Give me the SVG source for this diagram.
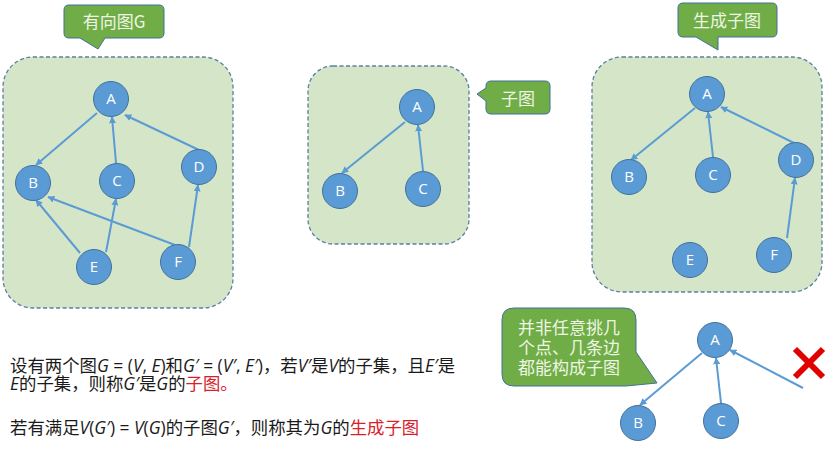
<svg xmlns="http://www.w3.org/2000/svg" width="835" height="450" viewBox="0 0 835 450">
<defs>
<style>
.box{fill:#D5E6C8;stroke:#5B7FA3;stroke-width:1.3;stroke-dasharray:4 2.5}
.call{fill:#70AD47;stroke:#41719C;stroke-width:1}
.ct{font-family:"Noto Sans CJK SC","Noto Sans",sans-serif;font-size:17px;fill:#EEF6E4}
.n circle{fill:#5B9BD5;stroke:#41719C;stroke-width:1}
.n text{font-family:"Open Sans","Liberation Sans",sans-serif;font-size:15px;fill:#fff;text-anchor:middle}
.e{stroke:#5B9BD5;stroke-width:2;fill:none;marker-end:url(#ah)}
.t{font-family:"Open Sans","Noto Sans CJK SC",sans-serif;font-size:17.4px;fill:#1a1a1a}
.i{font-style:italic}
.r{fill:#D9202A}
</style>
<marker id="ah" viewBox="0 0 10 10" refX="9" refY="5" markerWidth="3.5" markerHeight="3.5" orient="auto" markerUnits="strokeWidth">
<path d="M0,0 L10,5 L0,10 z" fill="#5B9BD5"/>
</marker>
</defs>

<!-- panel 1 -->
<g id="panel1">
<rect class="box" x="3" y="57" width="230" height="251" rx="30"/>
</g>
<g id="callout1">
<path class="call" d="M69,5 H159 Q164,5 164,10 V33 Q164,38 159,38 H105 L98,49 L80,38 H69 Q64,38 64,33 V10 Q64,5 69,5 Z"/>
<text class="ct" x="114" y="28" text-anchor="middle">有向图G</text>
</g>

<!-- panel 2 -->
<g id="panel2">
<rect class="box" x="308" y="66" width="161" height="178" rx="25"/>
</g>
<g id="callout2">
<path class="call" d="M491,81 H545 Q550,81 550,86 V109 Q550,114 545,114 H491 Q486,114 486,109 V101 L477,94 L486,88 V86 Q486,81 491,81 Z"/>
<text class="ct" x="518" y="105" text-anchor="middle">子图</text>
</g>

<!-- panel 3 -->
<g id="panel3">
<rect class="box" x="592" y="57" width="230" height="235" rx="30"/>
</g>
<g id="callout3">
<path class="call" d="M683,3 H772 Q777,3 777,8 V32 Q777,37 772,37 H718 V50 L696,37 H683 Q678,37 678,32 V8 Q678,3 683,3 Z"/>
<text class="ct" x="727" y="27" text-anchor="middle">生成子图</text>
</g>

<!-- bottom callout -->
<g id="callout4">
<path class="call" d="M514,308 H624 Q636,308 636,320 V352 L657,383 L626,386 H514 Q502,386 502,374 V320 Q502,308 514,308 Z"/>
<text class="ct" x="569" y="334" text-anchor="middle">并非任意挑几</text>
<text class="ct" x="569" y="354" text-anchor="middle">个点、几条边</text>
<text class="ct" x="569" y="374" text-anchor="middle">都能构成子图</text>
</g>

<!-- connectors -->
<g id="connectors">
<line class="e" x1="97" y1="113" x2="36" y2="165"/>
<line class="e" x1="116" y1="163" x2="112" y2="117"/>
<line class="e" x1="199" y1="150" x2="125" y2="115"/>
<line class="e" x1="80" y1="253" x2="36" y2="200"/>
<line class="e" x1="106" y1="252" x2="116" y2="199"/>
<line class="e" x1="175" y1="245" x2="48" y2="197"/>
<line class="e" x1="189" y1="247" x2="198" y2="185"/>

<line class="e" x1="405" y1="122" x2="342" y2="173"/>
<line class="e" x1="423" y1="171" x2="418" y2="125"/>

<line class="e" x1="695" y1="108" x2="631" y2="160"/>
<line class="e" x1="713" y1="157" x2="708" y2="112"/>
<line class="e" x1="794" y1="143" x2="721" y2="107"/>
<line class="e" x1="787" y1="238" x2="795" y2="178"/>

<line class="e" x1="702" y1="353" x2="640" y2="405"/>
<line class="e" x1="721" y1="403" x2="716" y2="358"/>
<line class="e" x1="803" y1="388" x2="730" y2="350"/>
</g>

<!-- nodes panel 1 -->
<g id="g1A" class="n"><circle cx="111" cy="99" r="17.5"/><text x="111" y="104">A</text></g>
<g id="g1B" class="n"><circle cx="33" cy="183" r="17.5"/><text x="33" y="188">B</text></g>
<g id="g1C" class="n"><circle cx="117" cy="181" r="17.5"/><text x="117" y="186">C</text></g>
<g id="g1D" class="n"><circle cx="199" cy="167" r="17.5"/><text x="199" y="172">D</text></g>
<g id="g1E" class="n"><circle cx="94" cy="267" r="17.5"/><text x="94" y="272">E</text></g>
<g id="g1F" class="n"><circle cx="178" cy="262" r="17.5"/><text x="178" y="267">F</text></g>

<!-- nodes panel 2 -->
<g id="g2A" class="n"><circle cx="417" cy="107" r="17.5"/><text x="417" y="112">A</text></g>
<g id="g2B" class="n"><circle cx="340" cy="191" r="17.5"/><text x="340" y="196">B</text></g>
<g id="g2C" class="n"><circle cx="423" cy="189" r="17.5"/><text x="423" y="194">C</text></g>

<!-- nodes panel 3 -->
<g id="g3A" class="n"><circle cx="707" cy="94" r="17.5"/><text x="707" y="99">A</text></g>
<g id="g3B" class="n"><circle cx="629" cy="177" r="17.5"/><text x="629" y="182">B</text></g>
<g id="g3C" class="n"><circle cx="713" cy="175" r="17.5"/><text x="713" y="180">C</text></g>
<g id="g3D" class="n"><circle cx="796" cy="160" r="17.5"/><text x="796" y="165">D</text></g>
<g id="g3E" class="n"><circle cx="690" cy="260" r="17.5"/><text x="690" y="265">E</text></g>
<g id="g3F" class="n"><circle cx="774" cy="255" r="17.5"/><text x="774" y="260">F</text></g>

<!-- nodes bottom -->
<g id="g4A" class="n"><circle cx="715" cy="340" r="17.5"/><text x="715" y="345">A</text></g>
<g id="g4B" class="n"><circle cx="638" cy="423" r="17.5"/><text x="638" y="428">B</text></g>
<g id="g4C" class="n"><circle cx="721" cy="421" r="17.5"/><text x="721" y="426">C</text></g>

<!-- red cross -->
<g id="cross" stroke="#E00000" stroke-width="6" stroke-linecap="butt">
<line x1="795" y1="349" x2="823" y2="377"/>
<line x1="823" y1="349" x2="795" y2="377"/>
</g>

<!-- texts -->
<g id="texts">
<text class="t" x="10" y="372">设有两个图<tspan class="i">G</tspan> = (<tspan class="i">V</tspan>, <tspan class="i">E</tspan>)和<tspan class="i">G′</tspan> = (<tspan class="i">V′</tspan>, <tspan class="i">E′</tspan>)，若<tspan class="i">V′</tspan>是<tspan class="i">V</tspan>的子集，且<tspan class="i">E′</tspan>是</text>
<text class="t" x="10" y="390"><tspan class="i">E</tspan>的子集，则称<tspan class="i">G′</tspan>是<tspan class="i">G</tspan>的<tspan class="r">子图。</tspan></text>
<text class="t" x="10" y="434">若有满足<tspan class="i">V</tspan>(<tspan class="i">G′</tspan>) = <tspan class="i">V</tspan>(<tspan class="i">G</tspan>)的子图<tspan class="i">G′</tspan>，则称其为<tspan class="i">G</tspan>的<tspan class="r">生成子图</tspan></text>
</g>
</svg>
